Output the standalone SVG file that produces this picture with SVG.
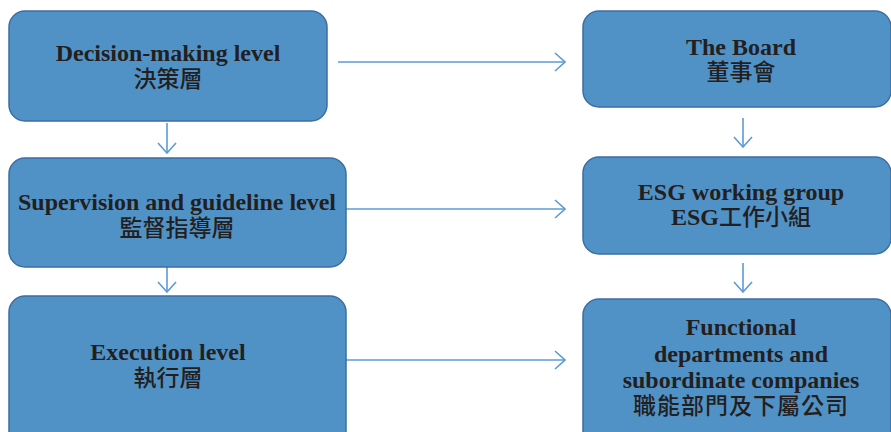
<svg xmlns="http://www.w3.org/2000/svg" width="891" height="432" viewBox="0 0 891 432">
<defs>
<style>
.box{fill:#5192c6;stroke:#3b6ea3;stroke-width:1.5}
.en{font-family:"Liberation Serif","Times New Roman",serif;font-weight:bold;font-size:24px;fill:#231f20;text-anchor:middle}
.zh{font-family:"Noto Sans CJK TC","Noto Sans CJK SC",sans-serif;font-weight:500;font-size:23px;fill:#231f20;text-anchor:middle}
.zhi{font-family:"Noto Sans CJK TC","Noto Sans CJK SC",sans-serif;font-weight:500;font-size:23px}
.con{fill:none;stroke:#5b9bd5;stroke-width:1.6}
</style>
<marker id="ah" viewBox="0 0 12 20" refX="11" refY="10" markerWidth="12" markerHeight="20" markerUnits="userSpaceOnUse" orient="auto">
<path d="M1,1 L11,10 L1,19" fill="none" stroke="#5b9bd5" stroke-width="1.6"/>
</marker>
</defs>
<rect width="891" height="432" fill="#ffffff"/>
<g id="connectors">
<line class="con" x1="338" y1="62" x2="565" y2="62" marker-end="url(#ah)"/>
<line class="con" x1="346" y1="209" x2="565" y2="209" marker-end="url(#ah)"/>
<line class="con" x1="346" y1="360" x2="565" y2="360" marker-end="url(#ah)"/>
<line class="con" x1="167" y1="123" x2="167" y2="153" marker-end="url(#ah)"/>
<line class="con" x1="167" y1="267" x2="167" y2="292" marker-end="url(#ah)"/>
<line class="con" x1="743" y1="118" x2="743" y2="147" marker-end="url(#ah)"/>
<line class="con" x1="743" y1="263" x2="743" y2="292" marker-end="url(#ah)"/>
</g>
<g id="decision">
<rect class="box" x="9" y="11" width="318" height="110" rx="16"/>
<text class="en" x="168" y="61">Decision-making level</text>
<text class="zh" x="168" y="87">決策層</text>
</g>
<g id="supervision">
<rect class="box" x="9" y="158" width="337" height="109" rx="16"/>
<text class="en" x="177" y="210">Supervision and guideline level</text>
<text class="zh" x="177" y="236">監督指導層</text>
</g>
<g id="execution">
<rect class="box" x="9" y="296" width="337" height="150" rx="16"/>
<text class="en" x="168" y="360">Execution level</text>
<text class="zh" x="168" y="386">執行層</text>
</g>
<g id="board">
<rect class="box" x="583" y="11" width="308" height="96" rx="16"/>
<text class="en" x="741" y="55">The Board</text>
<text class="zh" x="741" y="80">董事會</text>
</g>
<g id="esg">
<rect class="box" x="583" y="157" width="308" height="97" rx="16"/>
<text class="en" x="741" y="200">ESG working group</text>
<text class="en" x="741" y="225">ESG<tspan class="zhi">工作小組</tspan></text>
</g>
<g id="functional">
<rect class="box" x="583" y="299" width="308" height="150" rx="16"/>
<text class="en" x="741" y="335">Functional</text>
<text class="en" x="741" y="362">departments and</text>
<text class="en" x="741" y="388">subordinate companies</text>
<text class="zh" x="741" y="414" letter-spacing="1">職能部門及下屬公司</text>
</g>
</svg>
